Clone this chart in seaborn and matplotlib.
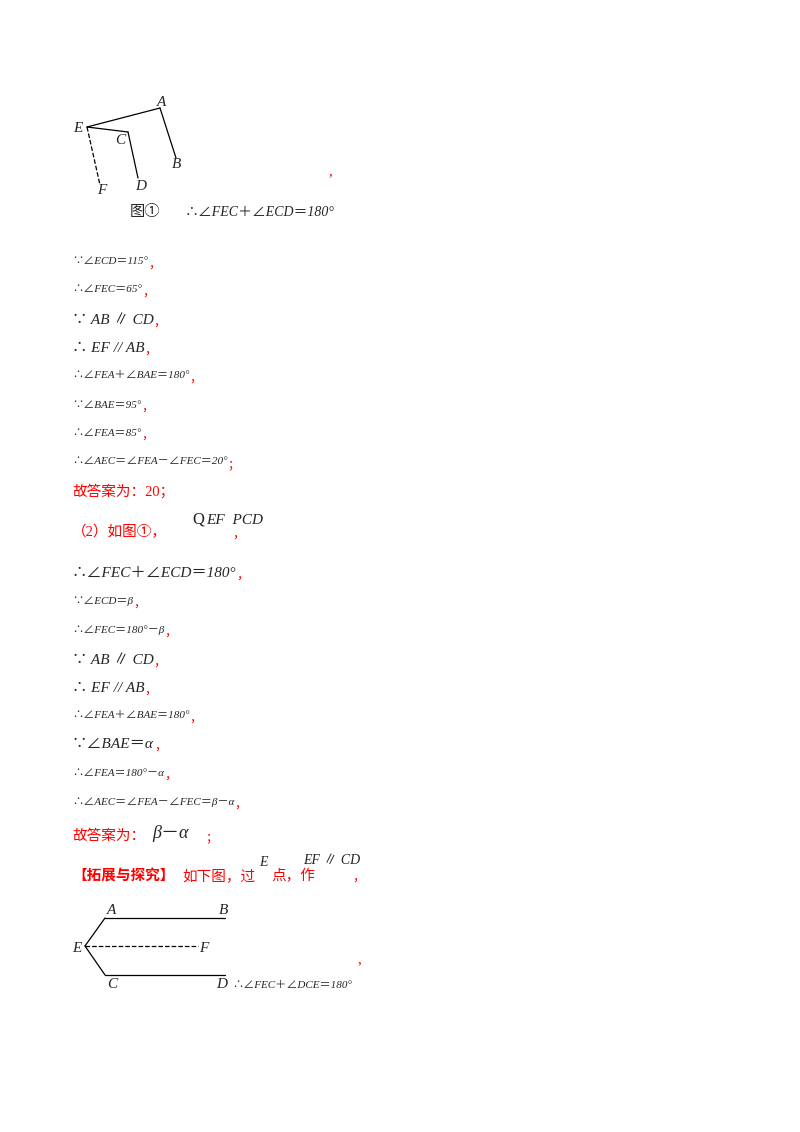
import matplotlib
matplotlib.use("Agg")
import matplotlib.pyplot as plt
import seaborn as sns

sns.set_style("white")
FAM = ['Liberation Serif', 'Noto Sans CJK SC', 'DejaVu Sans']
plt.rcParams['font.family'] = FAM

# figure 1 points (page pixels)
fig1_lines = [((87, 127), (160, 108)), ((160, 108), (176, 158)), ((87, 127), (128, 132)), ((128, 132), (138, 178))]
fig1_dash = [((87, 127), (100, 185))]
fig1_labels = [("E", 78, 128), ("A", 162, 103), ("B", 177, 165), ("C", 120, 141), ("D", 141, 186), ("F", 102, 191)]
# figure 2
fig2_lines = [((105, 918), (225, 918)), ((85, 946), (105, 918)), ((85, 946), (105, 975)), ((105, 975), (225, 975))]
fig2_dash = [((85, 946), (198, 946))]
fig2_labels = [("A", 112, 911), ("B", 224, 911), ("E", 77, 948), ("F", 204, 948), ("C", 112, 985), ("D", 222, 985)]

# text lines: y, text, size, comma-type
body_y = [262, 290, 320, 348, 376, 405, 433, 462, 573, 601, 630, 660, 688, 716, 744, 773, 802]
body_text = ["∵∠ECD＝115°", "∴∠FEC＝65°", "∵ AB ∥ CD", "∴ EF // AB", "∴∠FEA＋∠BAE＝180°",
             "∵∠BAE＝95°", "∴∠FEA＝85°", "∴∠AEC＝∠FEA－∠FEC＝20°",
             "∴∠FEC＋∠ECD＝180°", "∵∠ECD＝β", "∴∠FEC＝180°－β", "∵ AB ∥ CD", "∴ EF // AB",
             "∴∠FEA＋∠BAE＝180°", "∵∠BAE＝α", "∴∠FEA＝180°－α", "∴∠AEC＝∠FEA－∠FEC＝β－α"]
body_size = [8, 8, 11, 11, 8, 8, 8, 8, 11, 8, 8, 11, 11, 8, 11, 8, 8]
body_end = ["，"] * 7 + ["；"] + ["，"] * 9

fig = plt.figure(figsize=(8, 11.32), dpi=100)
ax = fig.add_axes([0, 0, 1, 1])
ax.set_xlim(0, 800); ax.set_ylim(1132, 0); ax.axis('off')

for pts, ls in [(fig1_lines, '-'), (fig1_dash, '--'), (fig2_lines, '-'), (fig2_dash, '--')]:
    for (x0, y0), (x1, y1) in pts:
        ax.plot([x0, x1], [y0, y1], color='black', lw=0.9, ls=ls)
for t, x, y in fig1_labels + fig2_labels:
    ax.text(x, y, t, fontsize=11, style='italic', ha='center', va='center')

ax.text(130, 212, "图①", fontsize=11, va='center')
ax.text(185, 212, "∴∠FEC＋∠ECD＝180°", fontsize=10, va='center', style='italic')
ax.text(328, 172, ",", fontsize=11, color='red', va='center')

fig.canvas.draw()
r = fig.canvas.get_renderer()
inv = ax.transData.inverted()
for y, t, s, e in zip(body_y, body_text, body_size, body_end):
    tx = ax.text(72, y, t, fontsize=s, va='center', style='italic')
    bb = tx.get_window_extent(r)
    xe = inv.transform((bb.x1, bb.y0))[0]
    ax.text(xe, y + 3, e, fontsize=9, color='red', va='center')

ax.text(72, 491, "故答案为：20；", fontsize=10.5, color='red', va='center')
ax.text(72, 532, "（2）如图①，", fontsize=10.5, color='red', va='center')
ax.text(192, 519, "Q", fontsize=12, va='center')
ax.text(206, 520, "EF  PCD", fontsize=11, style='italic', va='center')
ax.text(232, 535, "，", fontsize=9, color='red', va='center')
ax.text(72, 836, "故答案为：", fontsize=10.5, color='red', va='center')
ax.text(152, 834, "β－α", fontsize=13, style='italic', va='center')
ax.text(205, 838, "；", fontsize=9, color='red', va='center')
ax.text(72, 876, "【拓展与探究】", fontsize=10.5, color='red', weight='bold', va='center')
ax.text(182, 876, "如下图，过", fontsize=10.5, color='red', va='center')
ax.text(259, 862, "E", fontsize=10, style='italic', va='center')
ax.text(271, 876, "点，作", fontsize=10.5, color='red', va='center')
ax.text(303, 860, "EF ∥ CD", fontsize=10, style='italic', va='center')
ax.text(352, 878, "，", fontsize=9, color='red', va='center')
ax.text(232, 986, "∴∠FEC＋∠DCE＝180°", fontsize=8, style='italic', va='center')
ax.text(357, 960, ",", fontsize=11, color='red', va='center')

fig.savefig("out.png", dpi=100)
